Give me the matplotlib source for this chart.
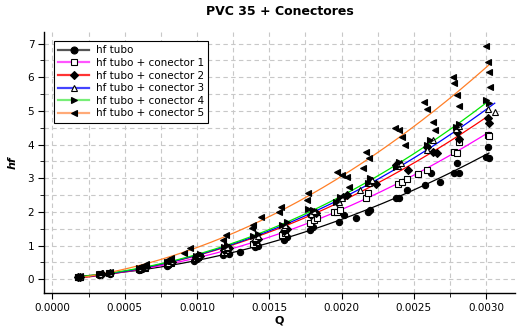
import numpy as np
import matplotlib
matplotlib.use("Agg")
from matplotlib import pyplot as plt
from matplotlib.lines import Line2D
from matplotlib.ticker import MultipleLocator

# data (Q, hf) for each series
q_tubo = [0.00018, 0.00018, 0.00032, 0.00040, 0.00060, 0.00062, 0.00079, 0.00080, 0.00098, 0.00100,
          0.00118, 0.00122, 0.00130, 0.00140, 0.00142, 0.00160, 0.00162, 0.00178, 0.00180,
          0.00198, 0.00202, 0.00210, 0.00218, 0.00220, 0.00238, 0.00240, 0.00245,
          0.00258, 0.00262, 0.00268, 0.00278, 0.00280, 0.00281, 0.00300, 0.00301, 0.00302]
hf_tubo = [0.06, 0.08, 0.14, 0.17, 0.28, 0.30, 0.40, 0.44, 0.55, 0.60,
           0.72, 0.75, 0.82, 0.95, 1.00, 1.17, 1.26, 1.46, 1.56,
           1.71, 1.91, 1.81, 2.00, 2.06, 2.40, 2.40, 2.65,
           2.80, 3.15, 2.90, 3.15, 3.44, 3.16, 3.64, 3.93, 3.59]

q_c1 = [0.00018, 0.00019, 0.00033, 0.00039, 0.00060, 0.00064, 0.00080, 0.00082, 0.00099, 0.00101,
        0.00119, 0.00121, 0.00139, 0.00141, 0.00159, 0.00161, 0.00178, 0.00181, 0.00183,
        0.00195, 0.00197, 0.00199, 0.00217, 0.00218, 0.00239, 0.00242, 0.00245,
        0.00253, 0.00259, 0.00278, 0.00280, 0.00281, 0.00301, 0.00302]
hf_c1 = [0.06, 0.07, 0.15, 0.18, 0.30, 0.33, 0.45, 0.48, 0.62, 0.65,
         0.82, 0.86, 1.06, 1.12, 1.32, 1.38, 1.66, 1.76, 1.81,
         2.00, 2.00, 2.06, 2.40, 2.55, 2.83, 2.90, 2.98,
         3.12, 3.26, 3.79, 3.76, 4.08, 4.28, 4.25]

q_c2 = [0.00018, 0.00019, 0.00034, 0.00040, 0.00061, 0.00065, 0.00080, 0.00083, 0.00099, 0.00102,
        0.00119, 0.00122, 0.00140, 0.00142, 0.00160, 0.00162, 0.00179, 0.00182,
        0.00197, 0.00201, 0.00204, 0.00220, 0.00224, 0.00238, 0.00246,
        0.00259, 0.00263, 0.00266, 0.00280, 0.00281, 0.00301, 0.00302]
hf_c2 = [0.07, 0.08, 0.16, 0.20, 0.32, 0.36, 0.48, 0.52, 0.66, 0.70,
         0.88, 0.92, 1.14, 1.20, 1.44, 1.50, 1.91, 1.98,
         2.30, 2.45, 2.50, 2.90, 2.83, 3.39, 3.24,
         3.94, 3.79, 3.74, 4.38, 4.18, 4.78, 4.63]

q_c3 = [0.00018, 0.00019, 0.00033, 0.00040, 0.00060, 0.00064, 0.00080, 0.00082, 0.00099, 0.00101,
        0.00119, 0.00121, 0.00140, 0.00142, 0.00160, 0.00161, 0.00179, 0.00181,
        0.00198, 0.00200, 0.00213, 0.00219, 0.00221, 0.00239, 0.00241,
        0.00259, 0.00263, 0.00279, 0.00281, 0.00301, 0.00306]
hf_c3 = [0.06, 0.07, 0.16, 0.19, 0.33, 0.36, 0.49, 0.53, 0.68, 0.72,
         0.92, 0.97, 1.22, 1.28, 1.55, 1.62, 1.95, 2.02,
         2.30, 2.40, 2.65, 2.85, 2.95, 3.35, 3.45,
         3.85, 4.13, 4.45, 4.55, 5.05, 4.97]

q_c4 = [0.00018, 0.00019, 0.00032, 0.00040, 0.00060, 0.00065, 0.00079, 0.00082, 0.00099, 0.00102,
        0.00119, 0.00121, 0.00139, 0.00142, 0.00159, 0.00162, 0.00177, 0.00180,
        0.00196, 0.00199, 0.00218, 0.00220, 0.00238, 0.00240,
        0.00259, 0.00261, 0.00279, 0.00281, 0.00300, 0.00302]
hf_c4 = [0.06, 0.08, 0.16, 0.20, 0.34, 0.38, 0.50, 0.55, 0.70, 0.76,
         0.96, 1.02, 1.28, 1.34, 1.62, 1.70, 2.10, 2.05,
         2.30, 2.45, 2.85, 3.00, 3.34, 3.49,
         4.00, 4.13, 4.53, 4.60, 5.32, 5.22]

q_c5 = [0.00018, 0.00019, 0.00033, 0.00040, 0.00060, 0.00065, 0.00079, 0.00082, 0.00091, 0.00095,
        0.00118, 0.00120, 0.00138, 0.00139, 0.00144, 0.00157, 0.00158, 0.00176, 0.00177,
        0.00197, 0.00200, 0.00204, 0.00205, 0.00215, 0.00217, 0.00219,
        0.00237, 0.00240, 0.00242, 0.00244, 0.00257, 0.00259, 0.00263, 0.00265,
        0.00277, 0.00278, 0.00280, 0.00281, 0.00300, 0.00301, 0.00302, 0.00303]
hf_c5 = [0.07, 0.09, 0.18, 0.22, 0.38, 0.47, 0.58, 0.62, 0.77, 0.92,
         1.17, 1.31, 1.51, 1.61, 1.86, 2.00, 2.15, 2.35, 2.55,
         3.19, 3.09, 3.04, 2.75, 3.29, 3.79, 3.59,
         4.48, 4.43, 4.23, 3.99, 5.27, 5.07, 4.68, 4.43,
         6.01, 5.82, 5.47, 5.14, 6.93, 6.46, 6.16, 5.72]

labels = ["hf tubo", "hf tubo + conector 1", "hf tubo + conector 2",
          "hf tubo + conector 3", "hf tubo + conector 4", "hf tubo + conector 5"]
series = [(q_tubo, hf_tubo), (q_c1, hf_c1), (q_c2, hf_c2),
          (q_c3, hf_c3), (q_c4, hf_c4), (q_c5, hf_c5)]
line_colors = ["#000000", "#ff00ff", "#ff0000", "#0000ff", "#00e600", "#ff7f27"]
legend_colors = ["#555555", "#ff55ff", "#ff3333", "#4444ff", "#77ee77", "#ffaa77"]
markers = ["o", "s", "D", "^", ">", "<"]
filled = [True, False, True, False, True, True]

plt.rcParams["font.family"] = "DejaVu Sans"
fig = plt.figure(figsize=(5.17, 3.27), dpi=100)
ax = fig.add_axes([0.0851, 0.103, 0.911, 0.799])

handles = []
for (q, hf), lc, lgc, m, f, lab in zip(series, line_colors, legend_colors, markers, filled, labels):
    q = np.array(q)
    hf = np.array(hf)
    # quadratic trend through the measured points
    c = np.polyfit(q, hf, 2)
    qq = np.linspace(q.min(), q.max(), 200)
    ax.plot(qq, np.polyval(c, qq), color=lc, lw=0.9, zorder=2)
    ms = 4 if m == "D" else 4.5
    ax.plot(q, hf, ls="none", marker=m, ms=ms,
            mfc="black" if f else "white", mec="black", mew=0.8, zorder=3)
    handles.append(Line2D([], [], color=lgc, lw=1.6, marker=m, ms=5 if m != "D" else 4.5,
                          mfc="black" if f else "white", mec="black", mew=0.8))

ax.set_xlim(-0.0000587, 0.0032)
ax.set_ylim(-0.415, 7.34)
ax.xaxis.set_major_locator(MultipleLocator(0.0005))
ax.xaxis.set_minor_locator(MultipleLocator(0.00025))
ax.yaxis.set_major_locator(MultipleLocator(1))
ax.yaxis.set_minor_locator(MultipleLocator(0.5))
ax.xaxis.set_major_formatter(matplotlib.ticker.FormatStrFormatter("%.4f"))

ax.grid(True, which="both", color="#c8c8c8", ls=(0, (4, 3)), lw=0.8, zorder=0)
ax.set_axisbelow(True)
for s in ("top", "right"):
    ax.spines[s].set_visible(False)
for s in ("left", "bottom"):
    ax.spines[s].set_linewidth(1.0)
ax.tick_params(which="major", direction="out", length=4, width=0.8, labelsize=7.5, pad=3)
ax.tick_params(which="minor", direction="out", length=3, width=0.6)

ax.set_title("PVC 35 + Conectores", fontsize=9, fontweight="bold", pad=12)
ax.set_xlabel("Q", fontsize=8, fontweight="bold", labelpad=2)
ax.set_ylabel("hf", fontsize=8, fontweight="bold", style="italic", labelpad=7)

leg = ax.legend(handles, labels, loc="upper left", bbox_to_anchor=(0.01, 0.985),
                fontsize=7.5, frameon=True, fancybox=False, framealpha=1,
                edgecolor="black", handlelength=3.0, labelspacing=0.25,
                borderpad=0.4, handletextpad=0.6)
leg.get_frame().set_linewidth(0.8)

fig.savefig("out.png", dpi=100)
